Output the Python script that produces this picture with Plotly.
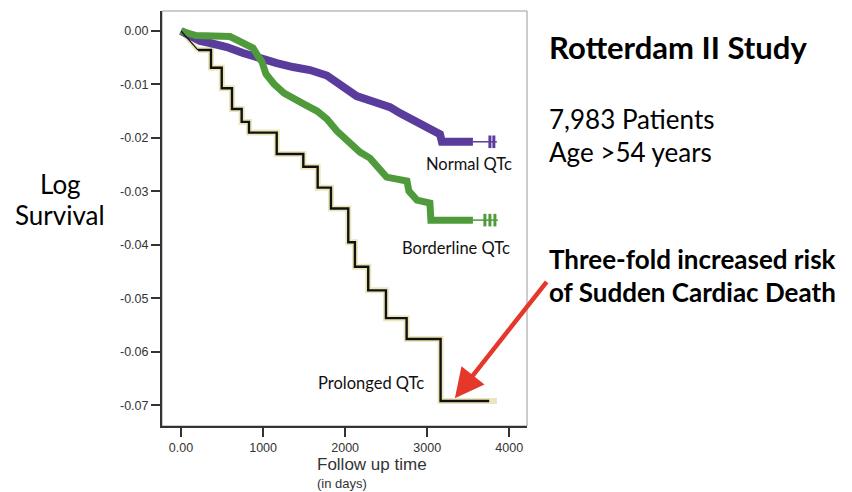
import plotly.graph_objects as go

# ---------------- data ----------------
normal_t = [0, 110, 231, 353, 557, 755, 962, 1166, 1364, 1571, 1778, 1937, 2140,
            2339, 2546, 2667, 2871, 3033, 3155, 3179, 3557]
normal_s = [0, -0.00075, -0.00187, -0.00225, -0.0030, -0.00412, -0.00524, -0.00599,
            -0.00674, -0.00730, -0.00833, -0.00992, -0.01216, -0.01319, -0.01423,
            -0.01535, -0.01685, -0.01797, -0.01928, -0.02072, -0.02072]
normal_last_t = 3849
normal_censor_t = [3764, 3812]

border_t = [0, 183, 597, 755, 877, 938, 987, 1035, 1133, 1255, 1413, 1498, 1657,
            1778, 1900, 2058, 2180, 2302, 2424, 2505, 2631, 2753, 2777, 2875, 3033,
            3045, 3557]
border_s = [0, -0.00084, -0.00103, -0.00225, -0.00318, -0.00468, -0.00580, -0.00805,
            -0.00992, -0.01161, -0.01273, -0.01367, -0.01497, -0.01647, -0.01872,
            -0.02096, -0.02265, -0.02377, -0.02620, -0.02733, -0.02770, -0.02807,
            -0.02995, -0.03163, -0.03219, -0.03537, -0.03537]
border_last_t = 3861
border_censor_t = [3703, 3764, 3825]

prolonged_t = [0, 207, 365, 496, 621, 739, 828, 1166, 1490, 1665, 1827, 2038, 2119,
               2281, 2497, 2749, 3163, 3755]
prolonged_s = [0, -0.00356, -0.00687, -0.01072, -0.0146, -0.0170, -0.0190, -0.0230,
               -0.0254, -0.0293, -0.0332, -0.0395, -0.0441, -0.0485, -0.0537, -0.0576,
               -0.0692, -0.0692]
prolonged_censor_end = 3850

x_tickvals = [0, 1000, 2000, 3000, 4000]
x_ticktext = ["0.00", "1000", "2000", "3000", "4000"]
y_tickvals = [0, -0.01, -0.02, -0.03, -0.04, -0.05, -0.06, -0.07]
y_ticktext = ["0.00", "-0.01", "-0.02", "-0.03", "-0.04", "-0.05", "-0.06", "-0.07"]

curve_labels = ["Normal QTc", "Borderline QTc", "Prolonged QTc"]

# ---------------- styles ----------------
PURPLE = "#5a3c9d"
GREEN = "#4f9b3b"
BEIGE = "rgba(228,222,165,0.75)"
BLACK = "#111111"
RED = "#e5372a"
FONT = "Lato"

fig = go.Figure()

# Prolonged: beige censor band (under), then black step line
fig.add_trace(go.Scatter(x=prolonged_t[1:] + [prolonged_censor_end],
                         y=prolonged_s[1:] + [prolonged_s[-1]],
                         mode="lines", line=dict(color=BEIGE, width=6, shape="hv"),
                         hoverinfo="skip", showlegend=False))
fig.add_trace(go.Scatter(x=prolonged_t[:2], y=prolonged_s[:2], mode="lines",
                         line=dict(color=BEIGE, width=5), hoverinfo="skip",
                         showlegend=False))

# Normal QTc (purple band + thin tail)
fig.add_trace(go.Scatter(x=normal_t, y=normal_s, mode="lines",
                         line=dict(color=PURPLE, width=8), showlegend=False))
fig.add_trace(go.Scatter(x=[normal_t[-1], normal_last_t], y=[normal_s[-1]] * 2,
                         mode="lines", line=dict(color=PURPLE, width=1.5),
                         showlegend=False))
fig.add_trace(go.Scatter(x=normal_censor_t, y=[normal_s[-1]] * len(normal_censor_t),
                         mode="markers",
                         marker=dict(symbol="line-ns", size=9,
                                     line=dict(color=PURPLE, width=3)),
                         showlegend=False))

# Borderline QTc (green band + thin tail)
fig.add_trace(go.Scatter(x=border_t, y=border_s, mode="lines",
                         line=dict(color=GREEN, width=7), showlegend=False))
fig.add_trace(go.Scatter(x=[border_t[-1], border_last_t], y=[border_s[-1]] * 2,
                         mode="lines", line=dict(color=GREEN, width=1.5),
                         showlegend=False))
fig.add_trace(go.Scatter(x=border_censor_t, y=[border_s[-1]] * len(border_censor_t),
                         mode="markers",
                         marker=dict(symbol="line-ns", size=9,
                                     line=dict(color=GREEN, width=3)),
                         showlegend=False))

# Prolonged black line
fig.add_trace(go.Scatter(x=prolonged_t[:2], y=prolonged_s[:2], mode="lines",
                         line=dict(color=BLACK, width=1.2), showlegend=False))
fig.add_trace(go.Scatter(x=prolonged_t[1:], y=prolonged_s[1:], mode="lines",
                         line=dict(color=BLACK, width=2.4, shape="hv"),
                         showlegend=False))

# curve labels
label_pos = [(2960, -0.0249), (2670, -0.0406), (1640, -0.0659)]
for txt, (lx, ly) in zip(curve_labels, label_pos):
    fig.add_annotation(x=lx, y=ly, text=txt, showarrow=False, xanchor="left",
                       yanchor="middle", font=dict(family=FONT, size=16.5, color="#111"))

# red arrow
fig.add_annotation(x=3337, y=-0.0687, ax=93, ay=-118, text="", showarrow=True,
                   arrowcolor=RED, arrowwidth=4.5, arrowhead=2, arrowsize=1.3,
                   standoff=0)

OFF = 8                       # page body margin
W, H = 852 - OFF, 492 - OFF
L, R, T, B = 162 - OFF, 527 - OFF, 11 - OFF, 426 - OFF


def px(xp):
    return (xp - OFF - L) / (R - L)


def py(yp):
    return (B - (yp - OFF)) / (B - T)


def text(s, xp, yp, size, bold=False, anchor="left", family=FONT, color="#000"):
    fig.add_annotation(xref="paper", yref="paper", x=px(xp), y=py(yp),
                       text=f"<b>{s}</b>" if bold else s, showarrow=False,
                       xanchor=anchor, yanchor="middle", align="left", borderpad=0,
                       font=dict(family=family, size=size, color=color))


text("Rotterdam II Study", 548, 47, 31, bold=True)
text("7,983 Patients", 548, 119, 26)
text("Age >54 years", 548, 152, 26)
text("Three-fold increased risk", 548, 259, 26, bold=True)
text("of Sudden Cardiac Death", 548, 292, 26, bold=True)
text("Log", 60, 184, 26, anchor="center")
text("Survival", 60, 215, 26, anchor="center")
text("Follow up time", 316, 464, 17, family="Liberation Sans", color="#333")
text("(in days)", 316, 483.5, 13, family="Liberation Sans", color="#333")

fig.add_shape(type="rect", xref="paper", yref="paper", x0=0, x1=1, y0=0, y1=1,
              line=dict(color="#9a9a9a", width=1), layer="below")

axis_common = dict(showgrid=False, zeroline=False, showline=True, linecolor="#333",
                   linewidth=2, ticks="outside", ticklen=9, tickwidth=1.5,
                   tickcolor="#333",
                   tickfont=dict(family="Liberation Sans", size=12.5, color="#333"))

fig.update_xaxes(range=[-232, 4216], tickvals=x_tickvals, ticktext=x_ticktext,
                 **axis_common)
fig.update_yaxes(range=[-0.07387, 0.00374], tickvals=y_tickvals, ticktext=y_ticktext,
                 **axis_common)

fig.update_layout(width=W, height=H, margin=dict(l=L, r=W - R, t=T, b=H - B),
                  plot_bgcolor="white", paper_bgcolor="white", showlegend=False)

fig.write_html("out.html")
